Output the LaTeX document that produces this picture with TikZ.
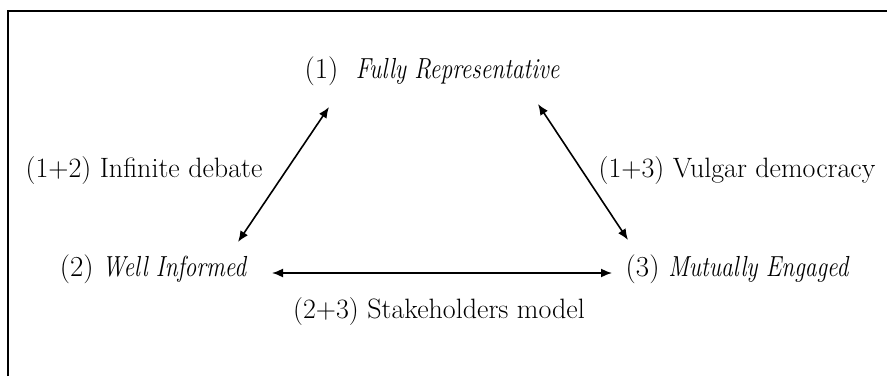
\documentclass[tikz,border=0pt]{standalone}
\usepackage{graphicx}
\usepackage{tikz}
\usetikzlibrary{arrows.meta}

\newcommand{\goalname}[1]{\scalebox{0.81}[1]{\itshape #1}}

\begin{document}
\begin{tikzpicture}[x=1pt,y=1pt,
goal/.style={%
anchor=base,
inner sep=0pt,
font=\fontsize{29}{33}\selectfont
},
combo/.style={%
anchor=base,
inner sep=0pt,
font=\fontsize{28}{32}\selectfont
},
link/.style={%
{Latex[length=11pt,width=9pt]}-{Latex[length=11pt,width=9pt]},
line width=1.6pt
},
]
\useasboundingbox (0,0) rectangle (887,376);
%% Frame
\draw[line width=2pt] (8,0)--(8,365)--(887,365);
%% Goals
\node[goal]at(432,298)(f1){(1)~~\goalname{Fully Representative}};
\node[goal]at(153,100)(f2){(2) \goalname{Well Informed}};
\node[goal]at(737,100)(f3){(3) \goalname{Mutually Engaged}};
%% Combinations
\node[combo]at(144,199)(c12){(1+2) Infinite debate};
\node[combo]at(737,199)(c13){(1+3) Vulgar democracy};
\node[combo]at(439,58)(c23){(2+3) Stakeholders model};
%% Links
\draw[link] ([shift={(85,34)}]f2.base)--([shift={(-103,-29)}]f1.base);
\draw[link] ([shift={(106,-26)}]f1.base)--([shift={(-109,36)}]f3.base);
\draw[link] ([shift={(119,3)}]f2.base)--([shift={(-125,3)}]f3.base);
\end{tikzpicture}
\end{document}
